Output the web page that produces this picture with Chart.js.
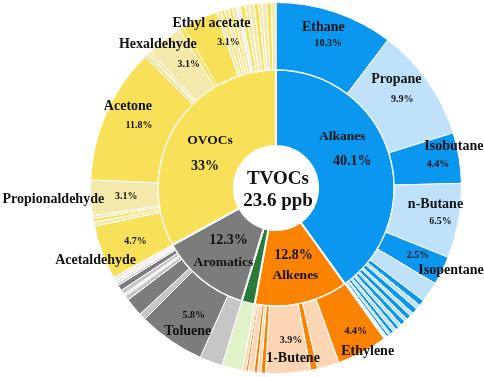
<!DOCTYPE html>
<html lang="en">
<head>
<meta charset="UTF-8">
<title>TVOCs composition</title>
<script src="https://cdn.jsdelivr.net/npm/chart.js"></script>
<style>
  html, body { margin: 0; padding: 0; background: #fff; }
  #wrap { width: 484px; height: 377px; }
</style>
</head>
<body>
<div id="wrap"><canvas id="tvocChart" width="484" height="377"></canvas></div>
<script>
// inner ring: VOC groups, % of TVOCs
const groupNames = ['Alkanes', 'Alkenes', 'Others', 'Aromatics', 'OVOCs'];
const groupValues = [40.1, 12.8, 1.8, 12.3, 33];

// outer ring: species per group, clockwise from 12 o'clock ('' = unlabelled)
const alkaneNames = ['Ethane', 'Propane', 'Isobutane', 'n-Butane', 'Isopentane', '', '', '', '', '', '', '', '', '', '', '', '', '', '', '', ''];
const alkaneValues = [10.3, 9.9, 4.4, 6.5, 2.5, 1.8, 0.5, 0.4, 0.5, 0.3, 0.4, 0.3, 0.4, 0.3, 0.3, 0.3, 0.3, 0.2, 0.2, 0.2, 0.1];
const alkeneNames = ['Ethylene', '', '', '1-Butene', '', '', '', '', '', ''];
const alkeneValues = [4.4, 1.9, 0.6, 3.9, 0.4, 0.3, 0.3, 0.5, 0.2, 0.3];
const otherNames = [''];
const otherValues = [1.8];
const aromaticNames = ['', 'Toluene', '', '', '', '', '', '', '', '', '', '', '', ''];
const aromaticValues = [2.0, 5.8, 0.6, 1.6, 0.4, 0.2, 0.4, 0.5, 0.2, 0.1, 0.1, 0.2, 0.1, 0.1];
const ovocNames = ['Acetaldehyde', '', '', '', 'Propionaldehyde', 'Acetone', '', '', 'Hexaldehyde', '', 'Ethyl acetate', '', '', '', '', '', '', '', '', '', '', '', '', '', ''];
const ovocValues = [4.7, 0.35, 0.3, 0.25, 3.1, 11.8, 0.4, 0.3, 3.1, 0.4, 3.1, 0.4, 0.3, 0.4, 0.3, 0.4, 0.3, 0.4, 0.4, 0.4, 0.4, 0.3, 0.4, 0.4, 0.4];

const totalLabel = ['TVOCs', '23.6 ppb'];

// colours
const palette = {
  B: '#0a97ef', b: '#bfe2fa', c: '#e4f2fc',
  O: '#fb8300', o: '#fcd5b5',
  G: '#277a39', g: '#e0f3c8',
  K: '#7c7c7c', k: '#c6c6c6', w: '#eeeeee', r: '#9c5b4b', p: '#e9cccc',
  Y: '#f8e159', y: '#f4e8ab'
};
const groupTones = ['B', 'O', 'G', 'K', 'Y'];
const alkaneTones = ['B', 'b', 'B', 'b', 'B', 'b', 'B', 'b', 'B', 'b', 'B', 'b', 'B', 'b', 'B', 'b', 'B', 'b', 'B', 'c', 'c'];
const alkeneTones = ['O', 'o', 'O', 'o', 'O', 'o', 'O', 'o', 'O', 'o'];
const otherTones = ['g'];
const aromaticTones = ['k', 'K', 'k', 'K', 'k', 'w', 'k', 'K', 'k', 'w', 'r', 'w', 'r', 'p'];
const ovocTones = ['Y', 'y', 'Y', 'y', 'y', 'Y', 'y', 'y', 'y', 'Y', 'Y', 'y', 'Y', 'y', 'Y', 'y', 'w', 'Y', 'y', 'y', 'Y', 'y', 'y', 'Y', 'y'];

const speciesNames = [].concat(alkaneNames, alkeneNames, otherNames, aromaticNames, ovocNames);
const speciesValues = [].concat(alkaneValues, alkeneValues, otherValues, aromaticValues, ovocValues);
const speciesColors = [].concat(alkaneTones, alkeneTones, otherTones, aromaticTones, ovocTones).map(t => palette[t]);

// label nudges from the slice centre: [name dx, dy], [percent dx, dy]
const outerLabelNudge = {
  'Ethane': [[-1, -17], [4, -1]],
  'Propane': [[-4, -21], [2, -1]],
  'Isobutane': [[28, -17], [12, 1]],
  'n-Butane': [[10, -11], [15, 6]],
  'Isopentane': [[39, 15], [6, 0]],
  'Ethylene': [[21, 29], [9, 9]],
  '1-Butene': [[7, 19], [5, 1]],
  'Toluene': [[-2, 18], [4, 2]],
  'Acetaldehyde': [[-38, 20], [2, 1]],
  'Propionaldehyde': [[-71, 3], [2, 0]],
  'Acetone': [[-9, -20], [2, -1]],
  'Hexaldehyde': [[-27, -22], [4, -2]],
  'Ethyl acetate': [[-2, -26], [15, -7]]
};
const innerLabelNudge = {
  'Alkanes': [[-10, -27], [0, -2]],
  'Alkenes': [[2, 9], [0, -11]],
  'Aromatics': [[-2, 12], [3, -10]],
  'OVOCs': [[3, -7], [-2, 19]]
};

const serif = '"Liberation Serif", "Times New Roman", serif';

function drawRingLabels(ctx, meta, names, values, nudges, nameFont, pctFont) {
  meta.data.forEach((arc, i) => {
    const nudge = nudges[names[i]];
    if (!nudge) return;
    const p = arc.getProps(['x', 'y', 'startAngle', 'endAngle', 'innerRadius', 'outerRadius'], true);
    const mid = (p.startAngle + p.endAngle) / 2;
    const r = (p.innerRadius + p.outerRadius) / 2;
    const cx = p.x + Math.cos(mid) * r;
    const cy = p.y + Math.sin(mid) * r;
    ctx.font = nameFont;
    ctx.fillText(names[i], cx + nudge[0][0], cy + nudge[0][1]);
    ctx.font = pctFont;
    ctx.fillText(values[i] + '%', cx + nudge[1][0], cy + nudge[1][1]);
  });
}

const labelPlugin = {
  id: 'ringLabels',
  afterDatasetsDraw(chart) {
    const ctx = chart.ctx;
    ctx.save();
    ctx.fillStyle = '#111';
    ctx.textAlign = 'center';
    ctx.textBaseline = 'middle';
    drawRingLabels(ctx, chart.getDatasetMeta(0), speciesNames, speciesValues, outerLabelNudge,
      'bold 14px ' + serif, 'bold 10px ' + serif);
    drawRingLabels(ctx, chart.getDatasetMeta(1), groupNames, groupValues, innerLabelNudge,
      'bold 13.5px ' + serif, 'bold 14px ' + serif);
    const c = chart.getDatasetMeta(1).data[0];
    ctx.font = 'bold 19px ' + serif;
    ctx.fillText(totalLabel[0], c.x + 2, c.y - 9);
    ctx.fillText(totalLabel[1], c.x + 2, c.y + 13);
    ctx.restore();
  }
};

new Chart(document.getElementById('tvocChart'), {
  type: 'doughnut',
  data: {
    labels: speciesNames,
    datasets: [
      {
        data: speciesValues,
        backgroundColor: speciesColors,
        borderColor: '#fff',
        borderWidth: 1,
        weight: 67
      },
      {
        data: groupValues,
        backgroundColor: groupTones.map(t => palette[t]),
        borderColor: '#fff',
        borderWidth: 2,
        weight: 76
      }
    ]
  },
  options: {
    responsive: false,
    animation: false,
    cutout: '22.7%',
    layout: { padding: { left: 90, right: 22, top: 2, bottom: 3 } },
    plugins: {
      legend: { display: false },
      tooltip: { enabled: false }
    }
  },
  plugins: [labelPlugin]
});
</script>
</body>
</html>
